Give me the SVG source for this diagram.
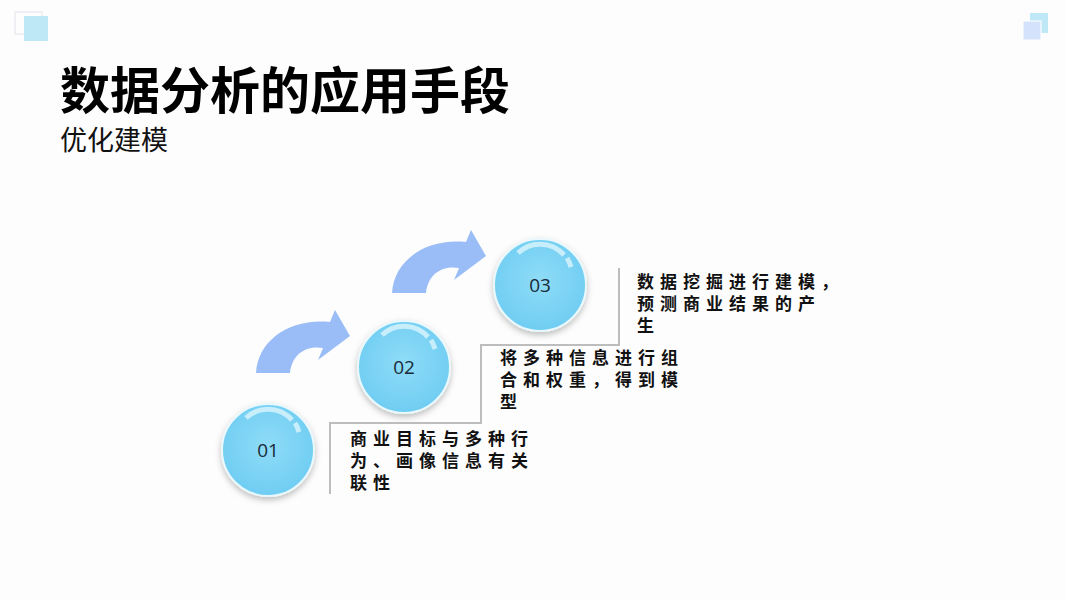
<svg xmlns="http://www.w3.org/2000/svg" width="1066" height="600" viewBox="0 0 1066 600">
<defs>
<radialGradient id="g" cx="0.5" cy="0.45" r="0.55"><stop offset="0" stop-color="#8fdcf7"/><stop offset="1" stop-color="#6fcdf2"/></radialGradient>
<filter id="sh" x="-20%" y="-20%" width="140%" height="150%"><feDropShadow dx="0" dy="3" stdDeviation="3" flood-color="#000" flood-opacity="0.25"/></filter>
</defs>
<style>
.c{fill:url(#g);stroke:#e8f8fd;stroke-width:2;filter:url(#sh)}
.hl{fill:none;stroke:#c9eefb;stroke-width:5;stroke-linecap:butt}
.n{font-family:"Open Sans","Noto Sans",sans-serif;font-size:19px;fill:#1a2a3a;text-anchor:middle}
.t{font-family:"Noto Sans CJK SC",sans-serif;font-size:17px;font-weight:bold;letter-spacing:6px;fill:#111}
.ar{fill:#9bbdf7}
.ln{fill:none;stroke:#bdbdbd;stroke-width:2}
</style>
<rect width="1066" height="600" fill="#fdfdfd"/>
<rect x="15" y="12" width="27" height="22" fill="none" stroke="#eef0f4" stroke-width="2"/>
<rect x="24" y="16" width="24" height="25" fill="#bfe8f7"/>
<rect x="1030" y="13" width="18" height="20" fill="#bfe8f7"/>
<rect x="1023" y="21" width="18" height="19" fill="#d5e2fb" stroke="#fff" stroke-width="1"/>
<text x="60" y="109" font-family="Noto Sans CJK SC,sans-serif" font-size="50" font-weight="bold" fill="#000">数据分析的应用手段</text>
<text x="60" y="150" font-family="Noto Sans CJK SC,sans-serif" font-size="27" fill="#111">优化建模</text>
<g id="connectors">
<path class="ln" d="M330,494 V423 H481 V345 H619 V268"/>
<path class="ar" d="M256,373 C258,340 290,318 330,322 L335,310 L350,336 L318,360 L323,348 C305,345 292,355 290,373 Z"/>
<path class="ar" d="M392,293 C394,260 426,238 466,242 L471,230 L486,256 L454,280 L459,268 C441,265 428,275 426,293 Z"/>
</g>
<g id="n1"><circle class="c" cx="268" cy="450" r="46"/><path class="hl" d="M246,418 A32,32 0 0 1 292,420"/><path class="hl" d="M295,423 A32,32 0 0 1 299,432"/><text class="n" x="268" y="457">01</text></g>
<g id="n2"><circle class="c" cx="404" cy="367" r="46"/><path class="hl" d="M382,335 A32,32 0 0 1 428,337"/><path class="hl" d="M431,340 A32,32 0 0 1 435,349"/><text class="n" x="404" y="374">02</text></g>
<g id="n3"><circle class="c" cx="540" cy="285" r="46"/><path class="hl" d="M518,253 A32,32 0 0 1 564,255"/><path class="hl" d="M567,258 A32,32 0 0 1 571,267"/><text class="n" x="540" y="292">03</text></g>
<g id="t1" class="t"><text x="350" y="445">商业目标与多种行</text><text x="350" y="467">为、画像信息有关</text><text x="350" y="489">联性</text></g>
<g id="t2" class="t"><text x="500" y="364">将多种信息进行组</text><text x="500" y="386">合和权重，得到模</text><text x="500" y="408">型</text></g>
<g id="t3" class="t"><text x="637" y="288">数据挖掘进行建模，</text><text x="637" y="310">预测商业结果的产</text><text x="637" y="332">生</text></g>
</svg>
